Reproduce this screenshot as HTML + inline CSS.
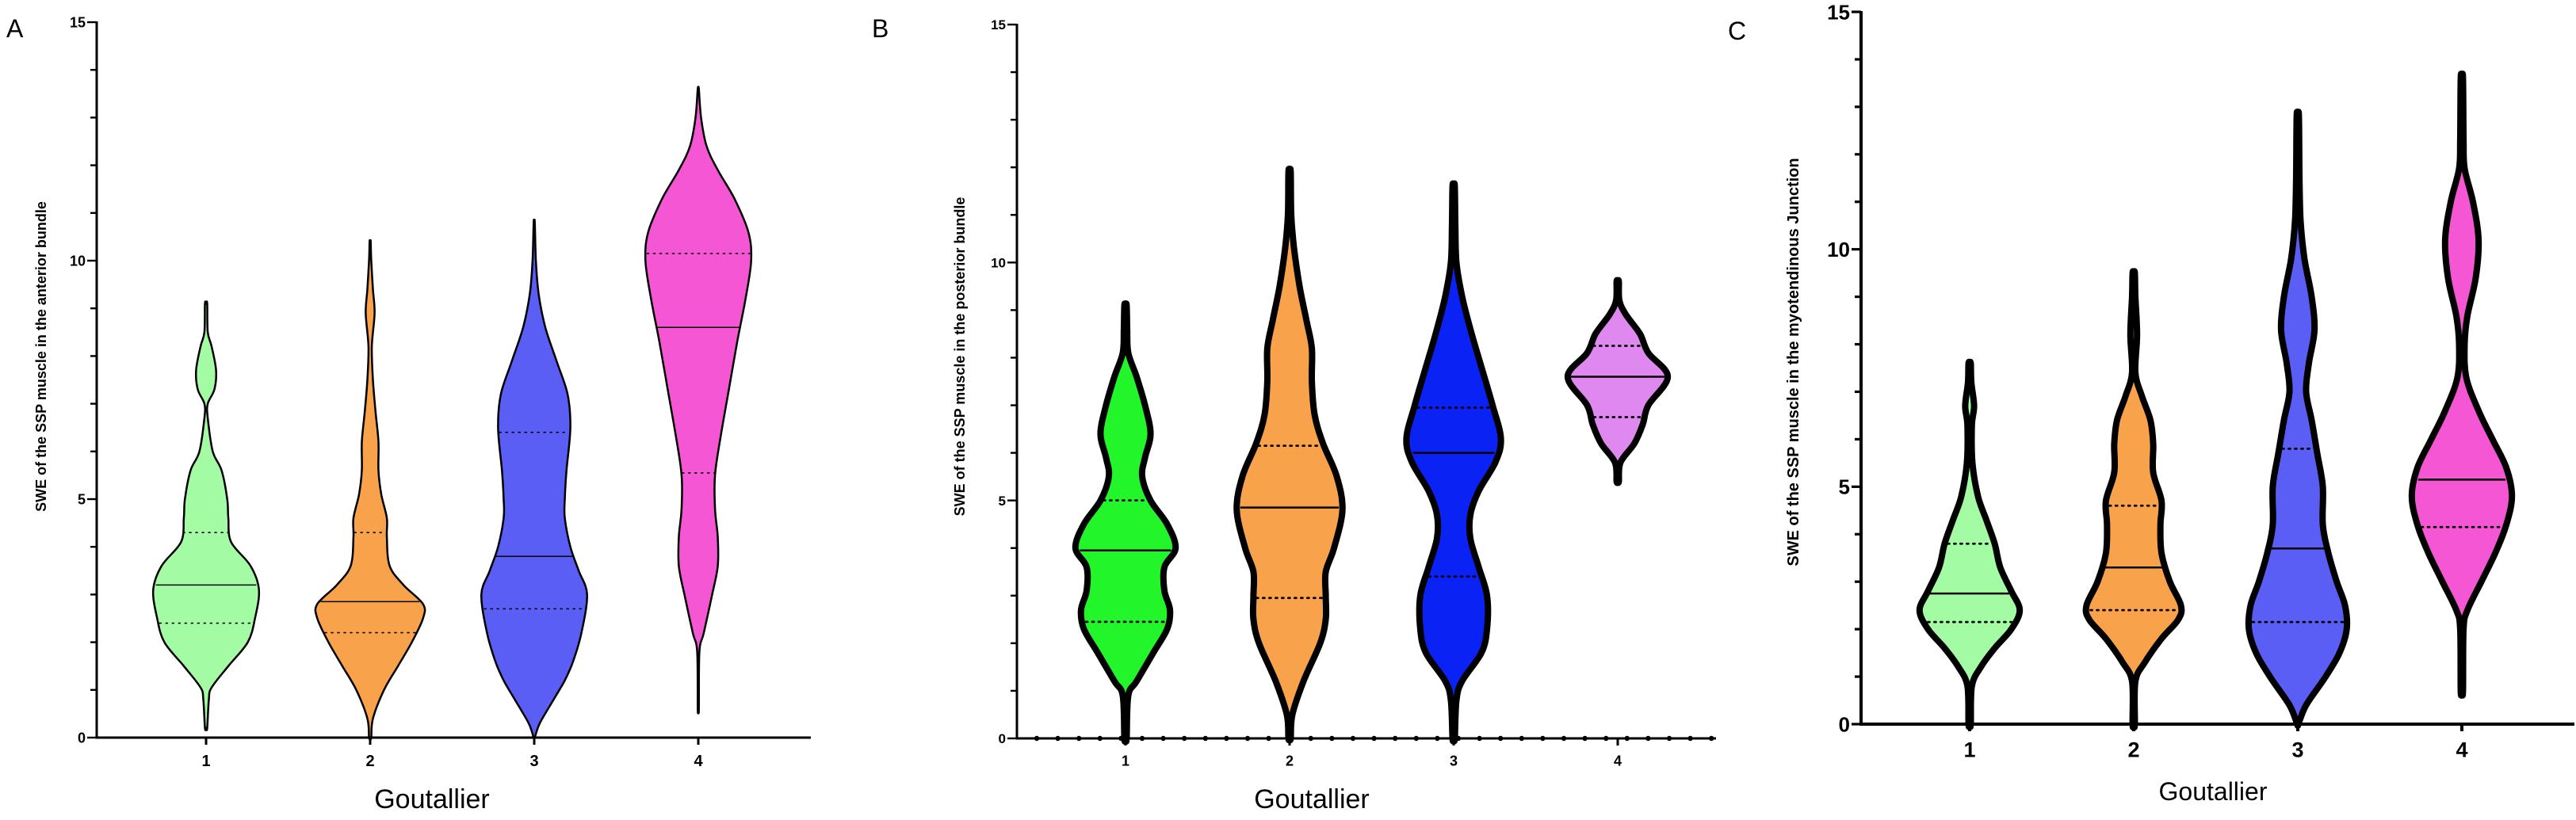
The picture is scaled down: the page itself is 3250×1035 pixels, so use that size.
<!DOCTYPE html>
<html><head><meta charset="utf-8"><style>
html,body{margin:0;padding:0;background:#fff}
svg{display:block}
text{font-family:"Liberation Sans",Arial,sans-serif}
</style></head><body>
<svg id="chart" width="3250" height="1035" viewBox="0 0 3250 1035" xmlns="http://www.w3.org/2000/svg"></svg>
<script>
// ---- data (values in SWE units; densities are relative half-widths) ----
const categories = ["1","2","3","4"];
const yTicks = [0,5,10,15];

const aVals = [
 [0.2,0.8,1.05,1.5,2.0,2.5,3.1,3.6,4.1,4.6,5.0,5.6,6.0,6.7,7.0,7.3,7.7,8.2,8.5,9.1],
 [0,0.4,1,1.5,2,2.5,2.8,3.2,3.6,4.2,4.6,5.1,5.6,6.2,6.8,7.5,8.2,8.9,9.4,10,10.4],
 [0,0.3,0.8,1.2,1.6,2.2,3,3.5,4,4.6,5,5.6,6.5,7.2,7.9,8.6,9.3,10,10.8],
 [0.6,1.8,2.2,3,3.6,4.2,4.8,5.5,6.3,7.3,8.3,9.2,10,10.6,11.3,11.9,12.4,13,13.6]];
const aDens = [
 [2,5,10,40,75,88,95,80,45,40,38,28,12,3,3,15,18,10,3,2],
 [2,5,25,50,75,95,95,60,35,30,30,20,15,15,10,5,3,8,5,2,1],
 [1,10,35,55,70,85,95,80,65,55,55,58,65,60,40,20,8,3,1],
 [1,2,10,25,35,35,30,30,40,55,70,85,95,90,65,35,15,5,1]];
const aMedian = [3.2,2.85,3.8,8.6];
const aQ1 = [2.4,2.2,2.7,5.55];
const aQ3 = [4.3,4.3,6.4,10.15];

const bVals = [
 [0,0.9,1.2,1.8,2.3,2.7,3.1,3.6,4.0,4.5,5,5.5,5.9,6.4,7,7.6,8.1,8.6,9.1],
 [0,0.5,1.2,2,2.5,3,3.5,4,4.8,5.5,6.2,6.8,7.5,8.2,8.8,9.5,10.3,11,11.9],
 [0,0.8,1.2,1.8,2.3,3,3.6,4.2,4.7,5.2,5.8,6.3,7,7.8,8.6,9.3,10,10.8,11.6],
 [5.4,5.8,6.2,6.6,7,7.6,8.1,8.5,8.9,9.2,9.6]];
const bDens = [
 [2,5,20,50,75,80,70,70,90,75,45,30,35,45,35,20,5,3,2],
 [2,5,25,55,65,65,65,80,95,85,60,45,40,40,30,18,8,3,2],
 [2,5,15,50,60,60,45,30,30,45,75,85,70,50,30,15,5,3,2],
 [2,5,30,45,55,90,55,40,15,3,2]];
const bMedian = [3.95,4.85,6.0,7.6];
const bQ1 = [2.45,2.95,3.4,6.75];
const bQ3 = [5.0,6.15,6.95,8.25];

const cVals = [
 [0,0.8,1.2,1.6,2.0,2.4,2.8,3.3,3.8,4.3,4.8,5.5,6.3,6.7,7.2,7.6],
 [0,0.9,1.3,1.8,2.2,2.5,3,3.6,4.2,4.7,5.3,5.9,6.4,6.9,7.4,8.2,9,9.5],
 [0,0.4,1,1.5,2,2.5,3,3.6,4.2,5,5.7,6.4,7,7.6,8.3,9,9.8,10.6,11.5,12.8],
 [0.7,2,2.4,3,3.6,4.2,4.8,5.4,6,6.6,7.3,8,8.6,9.4,10.2,11,11.7,12.3,13.6]];
const cDens = [
 [2,4,20,45,75,90,75,55,45,30,15,5,4,8,3,2],
 [2,3,20,50,80,85,65,50,48,50,35,35,30,15,3,6,3,2],
 [1,15,50,75,88,85,70,55,45,45,35,25,15,20,30,25,12,5,3,2],
 [2,3,10,35,60,80,90,80,55,30,8,5,10,25,30,20,5,3,2]];
const cMedian = [2.75,3.3,3.7,5.15];
const cQ1 = [2.15,2.4,2.15,4.15];
const cQ3 = [3.8,4.6,5.8,null];

// ---- rendering ----
const NS="http://www.w3.org/2000/svg";
const svg=document.getElementById('chart');
function mk(tag,attrs,parent){const e=document.createElementNS(NS,tag);for(const k in attrs)e.setAttribute(k,attrs[k]);(parent||svg).appendChild(e);return e;}

const panels=[
 {id:'a',letter:'A',lx:8,ly:47,ax:122,y0:931,y15:28,x1:260,step:207,xEnd:1023,title:'SWE of the SSP muscle in the anterior bundle',tx:58,ty:450,tfs:18,
  vals:aVals,dens:aDens,med:aMedian,q1:aQ1,q3:aQ3,colors:['#a3fca3','#f9a24c','#5a5ef5','#f456d4'],sw:2.5,mw:1.5,tickFs:18,xlabFs:20,gx:545,gy:1020,gfs:34,axw:3,dotted:false},
 {id:'b',letter:'B',lx:1100,ly:47,ax:1283,y0:932,y15:31,x1:1420,step:207,xEnd:2165,title:'SWE of the SSP muscle in the posterior bundle',tx:1217,ty:450,tfs:18,
  vals:bVals,dens:bDens,med:bMedian,q1:bQ1,q3:bQ3,colors:['#22f52a','#f9a24c','#0b22f5','#df88ef'],sw:8,mw:2.5,tickFs:17,xlabFs:18,gx:1655,gy:1020,gfs:34,axw:3,dotted:true},
 {id:'c',letter:'C',lx:2180,ly:50,ax:2348,y0:914,y15:15,x1:2485,step:207,xEnd:3248,title:'SWE of the SSP muscle in the myotendinous Junction',tx:2269,ty:457,tfs:20,
  vals:cVals,dens:cDens,med:cMedian,q1:cQ1,q3:cQ3,colors:['#a3fca3','#f9a24c','#5a5ef5','#f456d4'],sw:8,mw:2.5,tickFs:26,xlabFs:27,gx:2792,gy:1010,gfs:32,axw:4,dotted:false}
];

function smoothPath(pts){
 let d='M'+pts[0][0]+','+pts[0][1];
 for(let i=0;i<pts.length-1;i++){
  const p0=pts[Math.max(0,i-1)],p1=pts[i],p2=pts[i+1],p3=pts[Math.min(pts.length-1,i+2)];
  const c1=[p1[0]+(p2[0]-p0[0])/6,p1[1]+(p2[1]-p0[1])/6];
  const c2=[p2[0]-(p3[0]-p1[0])/6,p2[1]-(p3[1]-p1[1])/6];
  d+=' C'+c1[0].toFixed(1)+','+c1[1].toFixed(1)+' '+c2[0].toFixed(1)+','+c2[1].toFixed(1)+' '+p2[0].toFixed(1)+','+p2[1].toFixed(1);
 }
 return d;
}
function interpW(vals,dens,v){
 for(let i=0;i<vals.length-1;i++){if(v>=vals[i]&&v<=vals[i+1]){const t=(v-vals[i])/(vals[i+1]-vals[i]);return dens[i]+t*(dens[i+1]-dens[i]);}}
 return 0;
}

panels.forEach(P=>{
 const yS=v=>P.y0-v*(P.y0-P.y15)/15;
 const xS=i=>P.x1+i*P.step;
 const wS=d=>d*P.step/295;
 const g=mk('g',{});
 
 

 const lt=mk('text',{x:P.lx,y:P.ly,'font-size':32},g);
 
 
 lt.textContent=P.letter;

 // violins
 P.vals.forEach((vals,i)=>{
  const dens=P.dens[i];const cx=xS(i);
  const right=vals.map((v,k)=>[cx+wS(dens[k]),yS(v)]);
  const left=vals.map((v,k)=>[cx-wS(dens[k]),yS(v)]).reverse();
  const pts=[[cx,yS(vals[0])]].concat(right,[[cx,yS(vals[vals.length-1])]],left,[[cx,yS(vals[0])]]);
  const vg=mk('g',{},g);
  
  
  const p=mk('path',{d:smoothPath(pts)+' Z',fill:P.colors[i],stroke:'#000','stroke-width':P.sw,'stroke-linejoin':'round'},vg);
  
  
  const lines=[[P.med[i],'median-line',null],[P.q1[i],'q1-line','2,6'],[P.q3[i],'q3-line','2,6']];
  lines.forEach(([v,nm,dash])=>{
   if(v===null)return;
   const hw=wS(interpW(vals,dens,v))-P.sw/2;
   const l=mk('line',{x1:cx-hw,x2:cx+hw,y1:yS(v),y2:yS(v),stroke:'#000','stroke-width':dash?P.mw*1.1:P.mw},vg);
   if(dash){l.setAttribute('stroke-dasharray',dash);l.setAttribute('stroke-linecap','round');}
   
   
  });
 });

 // y axis
 const ya=mk('g',{},g);
 
 
 mk('line',{x1:P.ax,x2:P.ax,y1:P.y15-1,y2:P.y0+P.axw/2,stroke:'#000','stroke-width':P.axw},ya);
 for(let v=0;v<=15;v++){
  const major=v%5===0;
  mk('line',{x1:P.ax-(major?12:8),x2:P.ax,y1:yS(v),y2:yS(v),stroke:'#000','stroke-width':P.axw*0.8},ya);
 }
 yTicks.forEach(v=>{
  const t=mk('text',{x:P.ax-14,y:yS(v)+P.tickFs*0.36,'font-size':P.tickFs,'font-weight':'bold','text-anchor':'end'},ya);
  
  
  t.textContent=v;
 });
 const yt=mk('text',{x:P.tx,y:P.ty,'font-size':P.tfs,'font-weight':'bold','text-anchor':'middle',transform:'rotate(-90 '+P.tx+' '+P.ty+')'},g);
 
 
 yt.textContent=P.title;

 // x axis
 const xa=mk('g',{},g);
 
 
 mk('line',{x1:P.ax-P.axw/2,x2:P.xEnd,y1:P.y0,y2:P.y0,stroke:'#000','stroke-width':P.axw},xa);
 if(P.dotted){for(let x=P.ax+25;x<=P.xEnd;x+=26.6)mk('circle',{cx:x,cy:P.y0,r:3.2,fill:'#000'},xa);}
 categories.forEach((c,i)=>{
  mk('line',{x1:xS(i),x2:xS(i),y1:P.y0,y2:P.y0+9,stroke:'#000','stroke-width':P.axw},xa);
  const t=mk('text',{x:xS(i),y:P.y0+20+P.xlabFs*0.8,'font-size':P.xlabFs,'font-weight':'bold','text-anchor':'middle'},xa);
  
  
  t.textContent=c;
 });
 const xt=mk('text',{x:P.gx,y:P.gy,'font-size':P.gfs,'text-anchor':'middle'},g);
 
 
 xt.textContent='Goutallier';
});
</script>
</body></html>
